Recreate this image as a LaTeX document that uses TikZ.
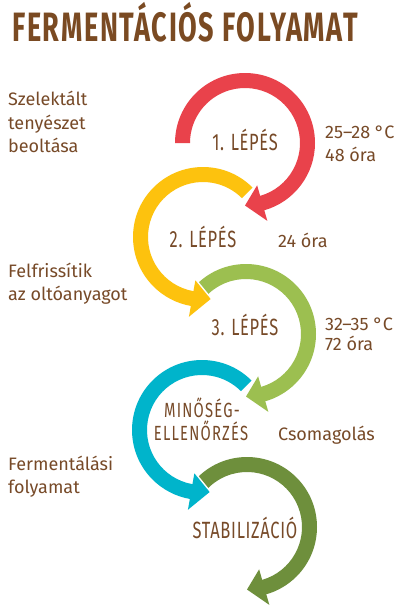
\documentclass[tikz,border=0pt]{standalone}
\usepackage{fontspec}
\setmainfont{Fira Sans}
\newfontfamily\titlefont[FakeStretch=0.66,LetterSpace=4]{Fira Sans}
\newfontfamily\handfont[FakeStretch=0.7,LetterSpace=3]{Fira Sans}
\newfontfamily\handwide[FakeStretch=0.72,LetterSpace=6]{Fira Sans}
\usetikzlibrary{calc}
\definecolor{txtbrown}{HTML}{774A28}
\definecolor{ttlbrown}{HTML}{7A4A22}
\definecolor{cred}{HTML}{E9424B}
\definecolor{cyellow}{HTML}{FDC20E}
\definecolor{clgreen}{HTML}{9CBF50}
\definecolor{ccyan}{HTML}{00B4CB}
\definecolor{cdgreen}{HTML}{6E8F3C}
\def\arcRo{70}
\def\arcRi{55}
% clockwise arrow: center, colour, start angle
\newcommand\cwArrow[3]{%
  \path[fill=#2, preaction={draw=white, line width=3pt}]
    ($(#1)+(#3:\arcRo)$) arc[start angle=#3, end angle=-74, radius=\arcRo]
    -- ($(#1)+(-74:81)$) -- ($(#1)+(-90:62.5)$) -- ($(#1)+(-74:44)$)
    -- ($(#1)+(-74:\arcRi)$) arc[start angle=-74, end angle=#3, radius=\arcRi] -- cycle;}
% counter-clockwise arrow
\newcommand\ccwArrow[3]{%
  \path[fill=#2, preaction={draw=white, line width=3pt}]
    ($(#1)+(#3:\arcRo)$) arc[start angle=#3, end angle=260, radius=\arcRo]
    -- ($(#1)+(260:81)$) -- ($(#1)+(277:62.5)$) -- ($(#1)+(260:44)$)
    -- ($(#1)+(260:\arcRi)$) arc[start angle=260, end angle=#3, radius=\arcRi] -- cycle;}
\begin{document}
\begin{tikzpicture}[x=1pt,y=1pt,
  body/.style={anchor=base west, inner sep=0pt, text=txtbrown, font=\fontsize{18}{21}\selectfont},
  hand/.style={inner sep=0pt, text=txtbrown, font=\handfont\fontsize{23.5}{26}\selectfont},
  handsm/.style={anchor=base, inner sep=0pt, text=txtbrown, font=\handwide\fontsize{20.5}{22}\selectfont},
  ttl/.style={anchor=base west, inner sep=0pt, text=ttlbrown, font=\titlefont\bfseries\fontsize{41}{46}\selectfont}]
\useasboundingbox (0,0) rectangle (410,-608);
\fill[white] (0,0) rectangle (410,-608);

\coordinate (c1) at (245,-143);
\coordinate (c2) at (203,-237);
\coordinate (c3) at (246,-334);
\coordinate (c4) at (202,-430);
\coordinate (c5) at (247,-527);

\cwArrow{c5}{cdgreen}{135}
\ccwArrow{c4}{ccyan}{45}
\cwArrow{c3}{clgreen}{135}
\ccwArrow{c2}{cyellow}{45}
\cwArrow{c1}{cred}{180}

\node[ttl] (title) at (12,-41) {FERMENTÁCIÓS FOLYAMAT};

\node[hand] (s1) at (245,-140) {1. LÉPÉS};
\node[hand] (s2) at (203,-237) {2. LÉPÉS};
\node[hand] (s3) at (245,-325) {3. LÉPÉS};
\node[handsm] (s4a) at (202,-417) {MINŐSÉG-};
\node[handsm] (s4b) at (201,-440) {ELLENŐRZÉS};
\node[hand] (s5) at (245,-528) {STABILIZÁCIÓ};

\node[body] (l1a) at (8,-105) {Szelektált};
\node[body] (l1b) at (8,-129) {tenyészet};
\node[body] (l1c) at (8,-152) {beoltása};
\node[body] (l2a) at (8,-277) {Felfrissítik};
\node[body] (l2b) at (8,-300) {az oltóanyagot};
\node[body] (l3a) at (8,-470) {Fermentálási};
\node[body] (l3b) at (8,-493) {folyamat};

\node[body] (r1a) at (325,-138) {25–28 °C};
\node[body] (r1b) at (325,-161) {48 óra};
\node[body] (r2) at (278,-247) {24 óra};
\node[body] (r3a) at (325,-330) {32–35 °C};
\node[body] (r3b) at (325,-350) {72 óra};
\node[body] (r4) at (278,-440) {Csomagolás};
\end{tikzpicture}
\end{document}
